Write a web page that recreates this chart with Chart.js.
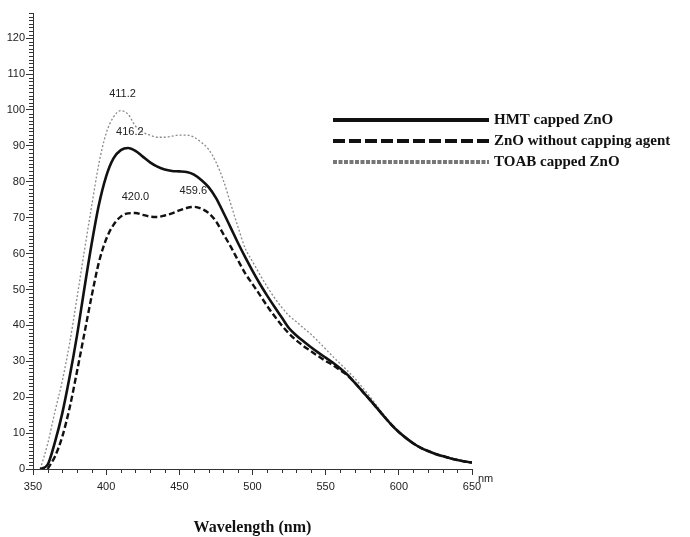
<!DOCTYPE html>
<html>
<head>
<meta charset="utf-8">
<script src="https://cdn.jsdelivr.net/npm/chart.js@4.4.1/dist/chart.umd.min.js"></script>
<style>
  html, body { margin: 0; padding: 0; background: #fff; }
  #wrap { width: 690px; height: 537px; }
</style>
</head>
<body>
<div id="wrap"><canvas id="spectra" width="690" height="537"></canvas></div>
<script>
const wavelengths = [350, 355, 360, 365, 370, 375, 380, 385, 390, 395, 400,
    405, 410, 415, 420, 425, 430, 435, 440, 445, 450,
    455, 460, 465, 470, 475, 480, 485, 490, 495, 500,
    505, 510, 515, 520, 525, 530, 535, 540, 545, 550,
    555, 560, 565, 570, 575, 580, 585, 590, 595, 600,
    605, 610, 615, 620, 625, 630, 635, 640, 645, 650];

const hmtCapped = [null, 0, 1.2, 7.5, 15.5, 25.6, 37, 50, 62.5, 73.5, 81.5,
    86.5, 88.8, 89.4, 88.6, 87, 85.4, 84.2, 83.4, 83, 82.9,
    82.7, 82, 80.5, 78.5, 75.5, 71.5, 67.3, 63, 59, 55.2,
    51.6, 48.3, 45.2, 42.2, 39.2, 37.2, 35.5, 33.9, 32.4, 31,
    29.6, 28, 26.2, 24, 21.7, 19.4, 17, 14.6, 12.3, 10.3,
    8.6, 7.1, 5.9, 5.0, 4.2, 3.6, 3.0, 2.5, 2.1, 1.8];

const noCapping = [null, null, 0, 3.5, 9, 17, 27, 37.5, 48, 57.5, 64,
    68, 70.3, 71.2, 71.3, 70.8, 70.3, 70.2, 70.6, 71.2, 72,
    72.7, 73, 72.5, 71.3, 69, 65.5, 62, 58.2, 54.5, 51.5,
    48.5, 45.4, 42.6, 40, 37.7, 35.8, 34.2, 32.8, 31.4, 30.1,
    28.9, 27.5, 26, 24, 21.7, 19.4, 17, 14.6, 12.3, 10.3,
    8.6, 7.1, 5.9, 5.0, 4.2, 3.6, 3.0, 2.5, 2.1, 1.8];

const toabCapped = [null, 0, 7, 16, 24.5, 35, 47.5, 60.5, 73, 85, 93.5,
    98, 99.8, 98.8, 95.5, 93.8, 93, 92.4, 92.4, 92.7, 93,
    93, 92.4, 91, 89, 85.5, 80.5, 74, 67.5, 61.5, 57.8,
    54.2, 50.8, 47.7, 45, 42.7, 41, 39.2, 37.5, 35.5, 33.4,
    31.3, 29.3, 27.3, 25.2, 22.8, 20.3, 17.6, 15, 12.6, 10.5,
    8.7, 7.2, 6, 5.1, 4.3, 3.7, 3.1, 2.6, 2.2, 1.9];

const seriesNames = ['HMT capped ZnO', 'ZnO without capping agent', 'TOAB capped ZnO'];

const peakLabels = ['411.2', '416.2', '420.0', '459.6'];
const peakX = [411.2, 416.2, 420.0, 459.6];
const peakY = [100, 89.4, 71.3, 73.0];

const narrow = "'Liberation Sans Narrow', 'Liberation Sans', Arial, sans-serif";
const serif = "'Liberation Serif', 'Times New Roman', serif";

const toPoints = (vals) => wavelengths.map((w, i) => ({ x: w, y: vals[i] }));

// legend line look (thicker than the plotted lines, as in the figure)
const legendStyles = [
    { color: '#111', width: 4, dash: [] },
    { color: '#111', width: 4, dash: [12, 4] },
    { color: '#777', width: 4, dash: [4, 1.5] },
];

const extras = {
    id: 'extras',
    afterDraw(chart) {
        const ctx = chart.ctx;
        const xs = chart.scales.x;
        const ys = chart.scales.y;
        const area = chart.chartArea;
        ctx.save();

        // minor ticks
        ctx.strokeStyle = '#333';
        ctx.lineWidth = 1;
        ctx.beginPath();
        for (let v = 1; v <= 127; v++) {
            if (v % 10 === 0) continue;
            const py = Math.round(ys.getPixelForValue(v)) + 0.5;
            ctx.moveTo(area.left - 4, py);
            ctx.lineTo(area.left, py);
        }
        for (let w = 360; w < 650; w += 10) {
            if (w % 50 === 0) continue;
            const px = Math.round(xs.getPixelForValue(w)) + 0.5;
            ctx.moveTo(px, area.bottom);
            ctx.lineTo(px, area.bottom + 4);
        }
        ctx.stroke();

        // unit next to the axis end
        ctx.fillStyle = '#222';
        ctx.font = '11px ' + narrow;
        ctx.textAlign = 'left';
        ctx.textBaseline = 'middle';
        ctx.fillText('nm', area.right + 6, area.bottom + 10);

        // peak wavelengths
        ctx.textAlign = 'center';
        peakLabels.forEach((txt, i) => {
            ctx.fillText(txt, xs.getPixelForValue(peakX[i]), ys.getPixelForValue(peakY[i] + 4.5));
        });

        // legend
        const rowY = [120, 141, 162];
        ctx.font = 'bold 15px ' + serif;
        ctx.textAlign = 'left';
        seriesNames.forEach((name, i) => {
            const st = legendStyles[i];
            ctx.strokeStyle = st.color;
            ctx.lineWidth = st.width;
            ctx.setLineDash(st.dash);
            ctx.beginPath();
            ctx.moveTo(333, rowY[i]);
            ctx.lineTo(489, rowY[i]);
            ctx.stroke();
            ctx.setLineDash([]);
            ctx.fillStyle = '#111';
            ctx.fillText(name, 494, rowY[i]);
        });
        ctx.restore();
    },
};

const ctx = document.getElementById('spectra').getContext('2d');

new Chart(ctx, {
    type: 'line',
    data: {
        datasets: [
            {
                label: seriesNames[0],
                data: toPoints(hmtCapped),
                borderColor: '#111',
                borderWidth: 2.6,
            },
            {
                label: seriesNames[1],
                data: toPoints(noCapping),
                borderColor: '#111',
                borderWidth: 2.4,
                borderDash: [6, 3],
            },
            {
                label: seriesNames[2],
                data: toPoints(toabCapped),
                borderColor: '#8a8a8a',
                borderWidth: 1.3,
                borderDash: [2, 2],
            },
        ],
    },
    options: {
        responsive: false,
        animation: false,
        devicePixelRatio: 1,
        layout: { padding: { left: 0, top: 13, right: 218, bottom: 0 } },
        elements: {
            point: { radius: 0 },
            line: { cubicInterpolationMode: 'monotone', fill: false },
        },
        plugins: {
            legend: { display: false },
            tooltip: { enabled: false },
        },
        scales: {
            x: {
                type: 'linear',
                min: 350,
                max: 650,
                border: { display: true, color: '#333', width: 1 },
                grid: { drawOnChartArea: false, tickLength: 6, color: '#333' },
                ticks: {
                    stepSize: 50,
                    padding: 5,
                    color: '#222',
                    maxRotation: 0,
                    font: { family: narrow, size: 11 },
                },
                title: {
                    display: true,
                    text: 'Wavelength (nm)',
                    color: '#111',
                    font: { family: serif, size: 16, weight: 'bold' },
                    padding: { top: 0, bottom: 0 },
                },
                afterFit: (s) => { s.height = 68; },
            },
            y: {
                min: 0,
                max: 127,
                border: { display: true, color: '#333', width: 1 },
                grid: { drawOnChartArea: false, tickLength: 7, color: '#333' },
                ticks: {
                    stepSize: 10,
                    padding: 1,
                    color: '#222',
                    font: { family: narrow, size: 11 },
                },
                afterBuildTicks: (s) => {
                    s.ticks = s.ticks.filter((t) => t.value % 10 === 0);
                },
                afterFit: (s) => { s.width = 33; },
            },
        },
    },
    plugins: [extras],
});
</script>
</body>
</html>
